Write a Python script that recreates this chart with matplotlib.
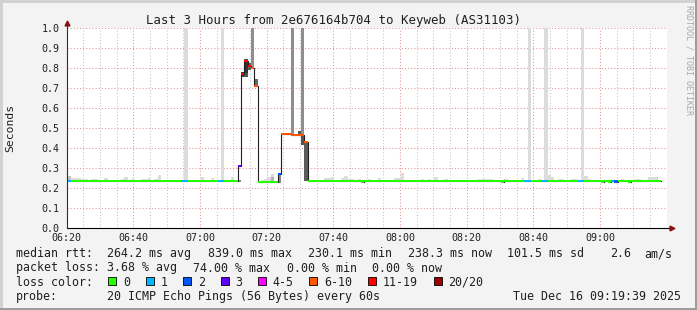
import matplotlib
matplotlib.use('Agg')
import matplotlib.pyplot as plt
import numpy as np

W, H = 697, 310
plt.rcParams['font.family'] = ['DejaVu Sans Mono']

# minutes after 06:20; each sample covers [k + OFFSET, k + 1 + OFFSET)
OFFSET = 0.3

# median rtt as runs: first sample index, value in seconds, lost pings out of 20
run_start = [0, 1, 3, 6, 7, 9, 34, 36, 45, 47, 51, 52, 53, 54, 55, 56, 57, 63,
             64, 67, 68, 71, 72, 88, 89, 130, 131, 137, 139, 142, 144, 153, 155,
             160, 161, 162, 163, 164, 165, 168, 169]
run_value = [0.238, 0.238, 0.235, 0.238, 0.235, 0.238, 0.238, 0.238, 0.238, 0.238,
             0.313, 0.772, 0.836, 0.811, 0.803, 0.713, 0.230, 0.271,
             0.471, 0.466, 0.468, 0.433, 0.238, 0.234, 0.238, 0.234, 0.238, 0.238,
             0.238, 0.238, 0.238, 0.238, 0.238,
             0.234, 0.238, 0.234, 0.238, 0.234, 0.238, 0.234, 0.238]
run_loss = [1, 0, 0, 0, 0, 0, 1, 0, 1, 0,
            3, 12, 15, 12, 8, 8, 0, 2,
            8, 8, 8, 7, 0, 0, 0, 0, 0, 1,
            0, 1, 0, 1, 0,
            0, 0, 0, 1, 2, 0, 0, 0]
run_end = 178

# smoke blocks (sample index, low, high, shade)
smoke_k = [35, 46, 138, 143, 154,
           0, 51, 52, 53, 53, 54, 55, 56, 58, 59, 60, 61, 61, 63,
           64, 65, 66, 67, 69, 70, 70, 71]
smoke_lo = [0.238, 0.238, 0.238, 0.238, 0.238,
            0.236, 0.234, 0.756, 0.756, 0.775, 0.790, 0.795, 0.710, 0.228, 0.228, 0.228, 0.228, 0.232, 0.228,
            0.466, 0.466, 0.466, 0.462, 0.462, 0.440, 0.418, 0.236]
smoke_hi = [1.0, 1.0, 1.0, 1.0, 1.0,
            0.262, 0.244, 0.784, 0.848, 0.840, 0.825, 1.0, 0.748, 0.241, 0.248, 0.258, 0.270, 0.255, 0.272,
            0.478, 0.478, 0.478, 1.0, 0.486, 1.0, 0.470, 0.430]
smoke_tone = ['#dcdcdc', '#dcdcdc', '#dcdcdc', '#dcdcdc', '#dcdcdc',
              '#c4c4c4', '#909090', '#3c3c3c', '#555555', '#333333', '#606060', '#8e8e8e', '#6a6a6a',
              '#dcdcdc', '#dcdcdc', '#dcdcdc', '#dcdcdc', '#b0b0b0', '#8a8a8a',
              '#c8c8c8', '#c8c8c8', '#c8c8c8', '#8e8e8e', '#5a5a5a', '#8e8e8e', '#555555', '#5c5c5c']

# light smoke bumps above the baseline (sample index, top)
bump_k = [1, 2, 3, 4, 5, 7, 8, 11, 16, 17, 19, 22, 23, 24, 26, 27, 40, 43, 49,
          77, 78, 79, 82, 83, 84, 85, 87, 90, 93, 98, 99, 100, 106, 108, 110, 113,
          123, 124, 125, 126, 127, 131, 136, 141, 144, 145, 147, 148, 151, 152,
          155, 156, 166, 170, 171, 174, 175, 176]
bump_top = [0.253, 0.253, 0.253, 0.246, 0.246, 0.245, 0.245, 0.253, 0.246, 0.256, 0.248,
            0.246, 0.246, 0.253, 0.247, 0.268, 0.256, 0.253, 0.258,
            0.253, 0.253, 0.256, 0.253, 0.263, 0.246, 0.246, 0.246, 0.246, 0.253,
            0.253, 0.253, 0.278, 0.248, 0.246, 0.258, 0.246,
            0.248, 0.248, 0.248, 0.248, 0.248, 0.246, 0.250, 0.246, 0.267, 0.256,
            0.246, 0.246, 0.246, 0.246, 0.261, 0.246, 0.246, 0.246, 0.246,
            0.255, 0.255, 0.255]

tick_minutes = [0, 20, 40, 60, 80, 100, 120, 140, 160]
tick_labels = ['06:20', '06:40', '07:00', '07:20', '07:40', '08:00', '08:20', '08:40', '09:00']

loss_upper = [0, 1, 2, 3, 5, 10, 19, 20]
loss_names = ['0', '1', '2', '3', '4-5', '6-10', '11-19', '20/20']
loss_colors = ['#26ff00', '#00b8ff', '#0059ff', '#5e00ff', '#ff00ff', '#ff5500', '#ff0000', '#a10000']

title = 'Last 3 Hours from 2e676164b704 to Keyweb (AS31103)'
rtt_row = [('median rtt:', 16), ('264.2 ms avg', 107.3), ('839.0 ms max', 207.8),
           ('230.1 ms min', 308), ('238.3 ms now', 408.5), ('101.5 ms sd', 507.3),
           ('2.6', 609.7), ('am/s', 644)]
loss_row = [('packet loss:', 16), ('3.68 % avg', 107.3), ('74.00 % max', 193.3),
            ('0.00 % min', 286.7), ('0.00 % now', 372.3)]
probe_text = '20 ICMP Echo Pings (56 Bytes) every 60s'
stamp = 'Tue Dec 16 09:19:39 2025'


def fx(x):
    return x / W


def fy(y):
    return 1 - y / H


def loss_color(n):
    for up, c in zip(loss_upper, loss_colors):
        if n <= up:
            return c
    return loss_colors[-1]


fig = plt.figure(figsize=(W / 100, H / 100), dpi=100, facecolor='#f3f3f3')
ax = fig.add_axes([fx(66.7), fy(228.3), 600 / W, 200 / H])
ax.set_facecolor('white')
ax.set_xlim(0, 180)
ax.set_ylim(0, 1.0)
for s in ax.spines.values():
    s.set_visible(False)

# grid
for m in range(5, 180, 5):
    if m % 20 == 0:
        ax.axvline(m, color='#e49494', lw=0.75, ls=(0, (1, 2)), zorder=0)
    else:
        ax.axvline(m, color='#c4c4c4', lw=0.75, ls=(0, (1, 2)), zorder=0)
for v in np.arange(0.1, 1.01, 0.1):
    ax.axhline(v, color='#e49494', lw=0.75, ls=(0, (1, 2)), zorder=0)

# smoke
ax.bar(np.array(bump_k) + OFFSET, np.array(bump_top) - 0.236, bottom=0.236, width=1,
       align='edge', color='#dcdcdc', lw=0, zorder=1)
ax.bar(np.array(smoke_k) + OFFSET, np.array(smoke_hi) - np.array(smoke_lo), bottom=smoke_lo,
       width=1, align='edge', color=smoke_tone, lw=0, zorder=1)

# median
lengths = np.diff(run_start + [run_end])
med = np.repeat(run_value, lengths)
loss = np.repeat(run_loss, lengths)
k = np.arange(run_start[0], run_end) + OFFSET
ax.step(np.append(k, k[-1] + 1), np.append(med, med[-1]), where='post',
        color='#202020', lw=0.8, zorder=2)
ax.bar(k, 0.011, bottom=med - 0.0055, width=1, align='edge',
       color=[loss_color(n) for n in loss], lw=0, zorder=3)

# axes with arrows
ax.plot([0, 181.5], [0, 0], color='black', lw=0.8, clip_on=False, zorder=4)
ax.plot([0, 0], [0, 1.02], color='#303030', lw=0.8, clip_on=False, zorder=4)
ax.plot([181.5], [0], marker='>', ms=3.5, color='#8b1010', clip_on=False, zorder=5)
ax.plot([0], [1.025], marker='^', ms=3.5, color='#8b1010', clip_on=False, zorder=5)

ax.set_xticks(tick_minutes)
ax.set_xticklabels(tick_labels)
ax.set_yticks(np.arange(0, 1.01, 0.1))
ax.set_yticklabels(['%.1f' % v for v in np.arange(0, 1.01, 0.1)])
ax.tick_params(axis='x', length=0, pad=3.3, labelsize=7.2, colors='#202020')
ax.tick_params(axis='y', length=0, pad=5.3, labelsize=7.2, colors='#202020')

fig.text(fx(333.5), fy(24), title, ha='center', va='baseline', fontsize=8.9, color='#202020')
fig.text(fx(10), fy(128.3), 'Seconds', rotation=90, ha='center', va='center',
         fontsize=8.2, color='#202020')
fig.text(fx(688.5), fy(5), 'RRDTOOL / TOBI OETIKER', rotation=270, ha='center', va='top',
         fontsize=6, color='#a8a8a8')

# legend
for txt, x in rtt_row:
    fig.text(fx(x), fy(257.4), txt, va='baseline', fontsize=8.4, color='#202020')
for txt, x in loss_row:
    fig.text(fx(x), fy(271.5), txt, va='baseline', fontsize=8.4, color='#202020')
fig.text(fx(16), fy(285.6), 'loss color:', va='baseline', fontsize=8.4, color='#202020')
bx = 108.3
for name, c in zip(loss_names, loss_colors):
    fig.add_artist(plt.Rectangle((fx(bx), fy(285.3)), 8 / W, 8 / H, transform=fig.transFigure,
                                 facecolor=c, edgecolor='black', lw=0.6))
    fig.text(fx(bx + 14.7), fy(285.6), name, va='baseline', fontsize=8.4, color='#202020')
    bx += 37.4 + (len(name) - 1) * 7.07
fig.text(fx(16), fy(299.7), 'probe:', va='baseline', fontsize=8.4, color='#202020')
fig.text(fx(107.3), fy(299.7), probe_text, va='baseline', fontsize=8.4, color='#202020')
fig.text(fx(681), fy(299.7), stamp, ha='right', va='baseline', fontsize=8.4, color='#202020')

# frame
fig.add_artist(plt.Rectangle((0, fy(2.5)), 1, 2.5 / H, transform=fig.transFigure, color='#d2d2d2', lw=0))
fig.add_artist(plt.Rectangle((0, 0), 2.5 / W, 1, transform=fig.transFigure, color='#d2d2d2', lw=0))
fig.add_artist(plt.Rectangle((0, 0), 1, 2.5 / H, transform=fig.transFigure, color='#9c9c9c', lw=0))
fig.add_artist(plt.Rectangle((1 - 2.5 / W, 0), 2.5 / W, 1, transform=fig.transFigure, color='#9c9c9c', lw=0))

fig.savefig('out.png', dpi=100, facecolor=fig.get_facecolor())
